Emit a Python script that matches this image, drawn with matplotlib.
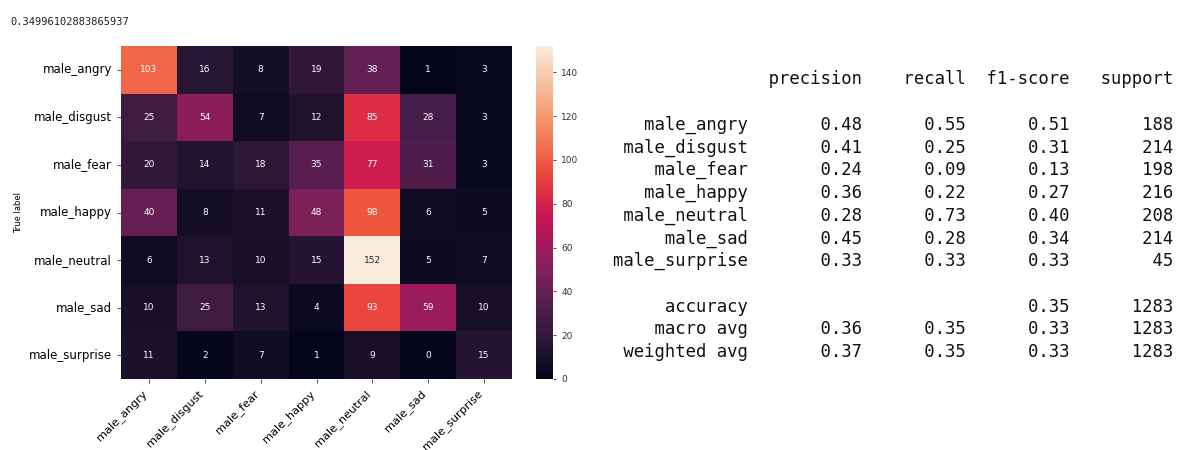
import numpy as np
import matplotlib
matplotlib.use("Agg")
import matplotlib.pyplot as plt
import seaborn as sns

# Klassen und Konfusionsmatrix (Zeilen = wahre Klasse, Spalten = Vorhersage)
labels = ["male_angry", "male_disgust", "male_fear", "male_happy",
          "male_neutral", "male_sad", "male_surprise"]
cm = np.array([
    [103, 16, 8, 19, 38, 1, 3],
    [25, 54, 7, 12, 85, 28, 3],
    [20, 14, 18, 35, 77, 31, 3],
    [40, 8, 11, 48, 98, 6, 5],
    [6, 13, 10, 15, 152, 5, 7],
    [10, 25, 13, 4, 93, 59, 10],
    [11, 2, 7, 1, 9, 0, 15],
])

# Werte des Klassifikationsberichts
precision = [0.48, 0.41, 0.24, 0.36, 0.28, 0.45, 0.33]
recall = [0.55, 0.25, 0.09, 0.22, 0.73, 0.28, 0.33]
f1 = [0.51, 0.31, 0.13, 0.27, 0.40, 0.34, 0.33]
support = [188, 214, 198, 216, 208, 214, 45]
accuracy = 0.35
macro_avg = [0.36, 0.35, 0.33]
weighted_avg = [0.37, 0.35, 0.33]
total = 1283
acc_score = 0.34996102883865937

W, H = 1178, 450
fig = plt.figure(figsize=(W / 100, H / 100), dpi=100)

# Genauigkeit oben links
fig.text(10 / W, 1 - 22 / H, str(acc_score), family="DejaVu Sans Mono",
         fontsize=7.5, va="center", ha="left", color="#222222")

# --- Heatmap ---
ax = fig.add_axes([121 / W, 71 / H, 391 / W, 333 / H])
cax = fig.add_axes([536 / W, 71 / H, 17 / W, 333 / H])
sns.heatmap(cm, annot=True, fmt="d", cmap="rocket", ax=ax, cbar_ax=cax,
            xticklabels=labels, yticklabels=labels,
            annot_kws={"fontsize": 6.5})
ax.set_yticklabels(labels, rotation=0, fontsize=8.5)
ax.set_xticklabels(labels, rotation=45, ha="right", fontsize=8.2)
ax.set_ylabel("True label", fontsize=6)
ax.tick_params(length=3, width=0.6, colors="#333333", labelcolor="black")
cax.tick_params(labelsize=6.5, length=2.5, width=0.6, colors="#333333")

# --- Klassifikationsbericht (Textformat wie sklearn) ---
width = max(len(n) for n in labels)
lines = []
lines.append(" " * width + " " + "".join(f" {h:>9}" for h in
                                         ["precision", "recall", "f1-score", "support"]))
lines.append("")
for i, name in enumerate(labels):
    lines.append(f"{name:>{width}s} " + f" {precision[i]:>9.2f}" +
                 f" {recall[i]:>9.2f}" + f" {f1[i]:>9.2f}" + f" {support[i]:>9}")
lines.append("")
lines.append(f"{'accuracy':>{width}s} " + f" {'':>9}" * 2 +
             f" {accuracy:>9.2f}" + f" {total:>9}")
lines.append(f"{'macro avg':>{width}s} " + "".join(f" {v:>9.2f}" for v in macro_avg) +
             f" {total:>9}")
lines.append(f"{'weighted avg':>{width}s} " + "".join(f" {v:>9.2f}" for v in weighted_avg) +
             f" {total:>9}")

y0 = 79.5
for k, line in enumerate(lines):
    fig.text(1173 / W, 1 - (y0 + k * 22.7) / H, line,
             family="DejaVu Sans Mono", fontsize=12.4, ha="right", va="center",
             color="#111111")

fig.savefig("out.png", dpi=100)
